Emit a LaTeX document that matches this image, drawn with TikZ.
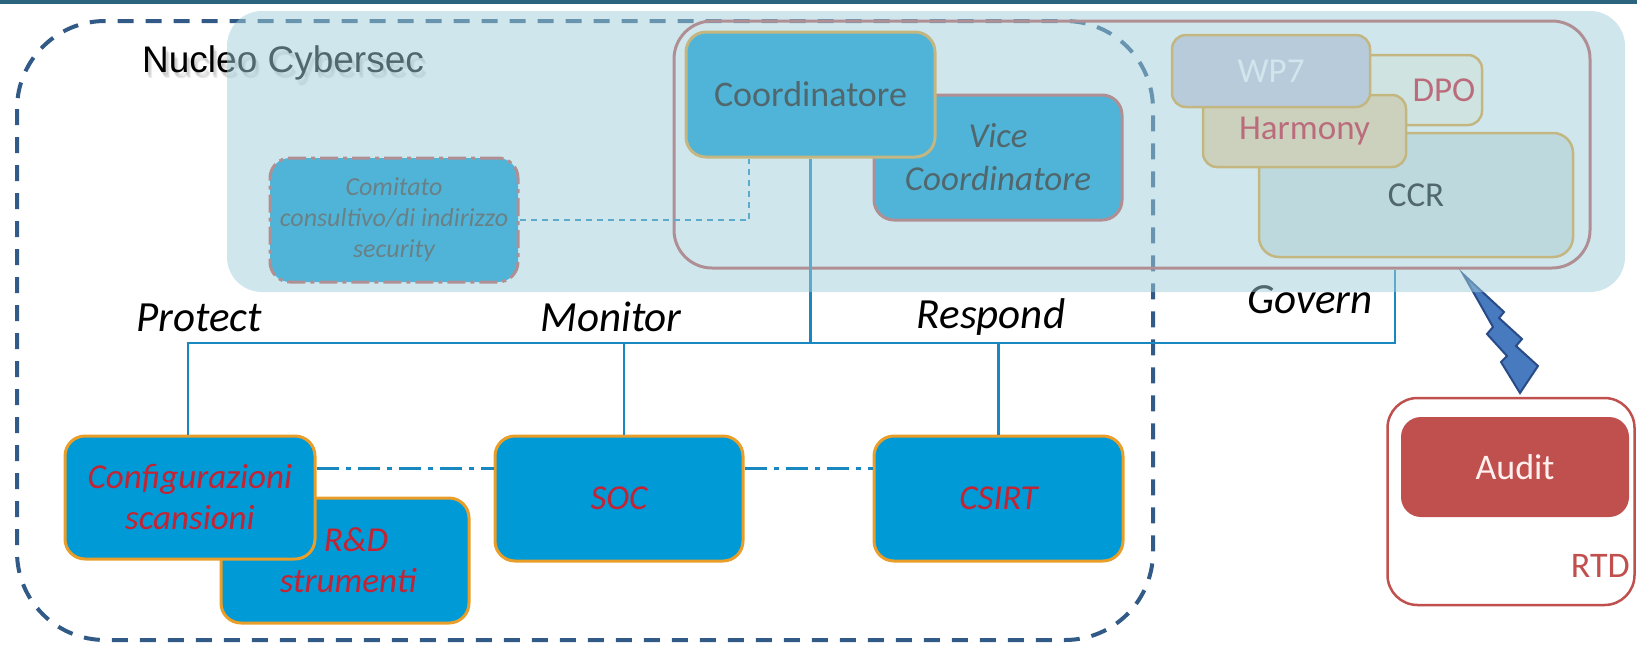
\documentclass[tikz,border=0pt]{standalone}
\usepackage{fontspec}
\setmainfont{Carlito}
\newfontfamily\arialfont{Liberation Sans}
\definecolor{topstrip}{RGB}{45,100,125}
\definecolor{frameblue}{RGB}{50,90,135}
\definecolor{haze}{RGB}{160,207,218}
\definecolor{boxblue}{RGB}{0,154,214}
\definecolor{boxorange}{RGB}{232,158,40}
\definecolor{boxred}{RGB}{192,80,77}
\definecolor{linkblue}{RGB}{25,135,192}
\definecolor{textred}{RGB}{195,35,50}
\definecolor{vividred}{RGB}{215,10,30}
\definecolor{wpfill}{RGB}{208,200,222}
\definecolor{dpofill}{RGB}{255,250,232}
\definecolor{harmfill}{RGB}{250,213,160}
\definecolor{ccrfill}{RGB}{220,228,226}
\definecolor{boltfill}{RGB}{72,122,192}
\definecolor{boltline}{RGB}{40,75,135}
\newcommand\setfs[2]{\fontsize{#1}{#2}\selectfont}
\tikzset{
  unitbox/.style={rectangle, rounded corners=20pt, line width=3pt, inner sep=0pt, align=center},
  bluebox/.style={unitbox, fill=boxblue, draw=boxorange},
  opbox/.style={bluebox, text=textred, font=\itshape\setfs{35}{41}},
  topbox/.style={unitbox, rounded corners=14pt, line width=2.5pt, draw=boxorange, font=\setfs{35}{41}},
  wire/.style={draw=linkblue, line width=2.6pt},
  peerlink/.style={draw=linkblue, line width=3pt, dash pattern=on 22pt off 7pt on 5pt off 7pt},
  advlink/.style={draw=linkblue, line width=2.5pt, dash pattern=on 6pt off 5pt},
  italic label/.style={font=\itshape\setfs{43}{50}, text=black, inner sep=0pt, anchor=base}
}
\begin{document}
\begin{tikzpicture}[x=1pt, y=-1pt]
\useasboundingbox (0,0) rectangle (1637,646);

% top rule
\fill[topstrip] (0,0) rectangle (1637,4);

% title with soft shadow
\foreach \dx/\dy in {2/3,3/5,4/6}
  \node[anchor=base west, inner sep=0pt, text=black, opacity=0.07, font=\arialfont\setfs{37}{44}] at (142+\dx,72+\dy) {Nucleo Cybersec};
\node[anchor=base west, inner sep=0pt, text=black, font=\arialfont\setfs{37}{44}] (title) at (142,72) {Nucleo Cybersec};

% perimeter of the cybersecurity unit
\draw[frameblue, line width=4pt, dash pattern=on 16pt off 12pt, rounded corners=88pt] (17,21) rectangle (1153,640);

% governance frame
\node[rectangle, rounded corners=38pt, draw=boxred, line width=3pt, minimum width=916pt, minimum height=247pt] (gov) at (1132,144.5) {};

% coordination boxes
\node[unitbox, fill=boxblue, draw=boxred, minimum width=248pt, minimum height=125pt, font=\itshape\setfs{35}{43}, text=black] (vice) at (998,157.5) {Vice\\Coordinatore};
\node[bluebox, minimum width=249pt, minimum height=125pt, font=\setfs{36}{42}, text=black] (coord) at (810.5,94.5) {Coordinatore};
\node[unitbox, fill=boxblue, draw=boxred, dash pattern=on 18pt off 5pt on 4pt off 5pt, minimum width=248pt, minimum height=124pt, font=\itshape\setfs{26}{31}, text=black!80] (comit) at (394,220) {Comitato\\consultivo/di indirizzo\\security};
\draw[advlink] (comit.east) -| ([xshift=-61.5pt]coord.south);

% external bodies
\node[topbox, fill=ccrfill, minimum width=314pt, minimum height=124pt, rounded corners=20pt, text=black] (ccr) at (1416,195) {CCR};
\node[topbox, fill=dpofill, minimum width=182pt, minimum height=70pt] (dpo) at (1391,90) {};
\node[text=vividred, font=\setfs{35}{41}, inner sep=0pt] (dpolabel) at (1444,90) {DPO};
\node[topbox, fill=harmfill, minimum width=203pt, minimum height=72pt, text=vividred] (harm) at (1304.5,131) {Harmony};
\node[topbox, fill=wpfill, minimum width=198pt, minimum height=72pt, text=white] (wp7) at (1271,71) {WP7};

% operational units
\node[opbox, minimum width=248pt, minimum height=125pt] (rnd) at (345,560.5) {\hspace*{22pt}R\&D\\\hspace*{6pt}strumenti};
\node[opbox, minimum width=250pt, minimum height=123pt] (conf) at (190,497.5) {Configurazioni\\scansioni};
\node[opbox, minimum width=248pt, minimum height=125pt] (soc) at (619,498.5) {SOC};
\node[opbox, minimum width=249pt, minimum height=125pt] (csirt) at (998.5,498.5) {CSIRT};

% reporting lines
\coordinate (busL) at (188,343);
\coordinate (busR) at (1395,343);
\coordinate (socdrop) at (624,343);
\draw[wire] (coord.south) -- (coord.south |- busL);
\draw[wire] (busL |- conf.north) -- (busL) -- (busR) -- (busR |- gov.south);
\draw[wire] (socdrop) -- (socdrop |- soc.north);
\draw[wire] (csirt.north |- busL) -- (csirt.north);
\coordinate (peerrow) at (0,468);
\draw[peerlink] (conf.east |- peerrow) -- (soc.west |- peerrow);
\draw[peerlink] (soc.east |- peerrow) -- (csirt.west |- peerrow);

% functions
\node[italic label] (protect) at (199,331) {Protect};
\node[italic label] (monitor) at (611,331) {Monitor};
\node[italic label] (respond) at (991,328) {Respond};
\node[italic label] (govern) at (1310,313) {Govern};

% independent audit
\node[rectangle, rounded corners=30pt, draw=boxred, line width=2.5pt, minimum width=247pt, minimum height=207pt] (rtd) at (1511,501.5) {};
\node[rectangle, rounded corners=20pt, fill=boxred, minimum width=228pt, minimum height=100pt, text=white!94!red, font=\setfs{36}{42}] (audit) at (1515,467) {Audit};
\node[anchor=base east, inner sep=0pt, text=boxred, font=\setfs{36}{42}] (rtdlabel) at (1630,577) {RTD};

% lightning bolt
\filldraw[fill=boltfill, draw=boltline, line width=2pt, line join=miter]
  (1463,274) -- (1504,312) -- (1499,318) -- (1522,339) -- (1516,346) -- (1538,366)
  -- (1520,393) -- (1501,362) -- (1507,356) -- (1487,334) -- (1493,327) -- cycle;

% translucent band over the steering level
\fill[haze, fill opacity=0.5, rounded corners=35pt] (227,11) rectangle (1625,292);
\end{tikzpicture}
\end{document}
